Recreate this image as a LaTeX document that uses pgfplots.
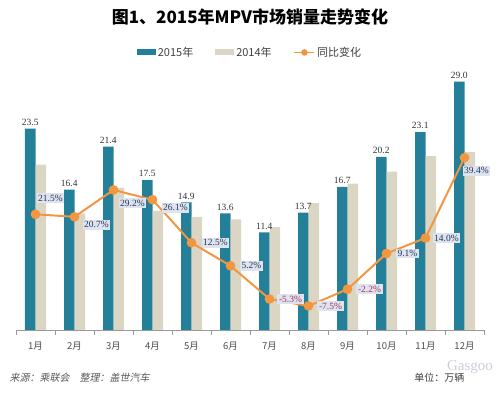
\documentclass[border=0pt]{standalone}
\usepackage{pgfplots}
\pgfplotsset{compat=1.18}
\usepackage{pgfplotstable}
\usepackage{fontspec}
\setmainfont{Liberation Serif}
\newfontfamily\cjk{Noto Sans CJK SC}
\newfontfamily\cjkit[FakeSlant=0.2]{Noto Sans CJK SC}
\definecolor{teal15}{RGB}{36,127,152}
\definecolor{beige14}{RGB}{218,214,195}
\definecolor{orng}{RGB}{242,150,66}
\definecolor{lblbg}{RGB}{221,228,240}
\definecolor{lbltxt}{RGB}{40,55,85}
\definecolor{negtxt}{RGB}{170,50,90}
\pgfplotstableread{
x v15 v14 g
0 23.5 19.3 21.5
1 16.4 13.6 20.7
2 21.4 16.6 29.2
3 17.5 13.9 26.1
4 14.9 13.2 12.5
5 13.6 12.9 5.2
6 11.4 12.0 -5.3
7 13.7 14.8 -7.5
8 16.7 17.1 -2.2
9 20.2 18.5 9.1
10 23.1 20.3 14.0
11 29.0 20.8 39.4
}\datatab
\pgfplotstableread{
x g dx dy
0 21.5 15 16
1 20.7 22 -8
2 29.2 19 -13
3 26.1 23 -8
4 12.5 24 0
5 5.2 21 0
9 9.1 21 0
10 14.0 21 0
11 39.4 12 -13
}\postab
\pgfplotstableread{
x g dx dy
6 -5.3 21 0
7 -7.5 22 0
8 -2.2 22 0
}\negtab
\begin{document}
\begin{tikzpicture}
\useasboundingbox (0pt,0pt) rectangle (500pt,395pt);
\begin{axis}[
  at={(16pt,65pt)}, anchor=south west,
  scale only axis, width=468pt, height=257pt,
  xmin=-0.5, xmax=11.5, ymin=0, ymax=30,
  clip=false,
  axis x line*=bottom, axis y line=none,
  x axis line style={draw=gray!80, -},
  xtick={0,...,11},
  xticklabels={1月,2月,3月,4月,5月,6月,7月,8月,9月,10月,11月,12月},
  major tick length=0pt,
  minor xtick={-0.5,0.5,...,11.5},
  minor tick length=5pt,
  tick align=outside,
  minor tick style={draw=gray!80},
  x tick label style={font=\cjk\fontsize{9.5}{11}\selectfont, text=black!70, yshift=-8pt},
  ybar=0pt, bar width=10.5pt,
  legend style={at={(0.5,1.08)}, anchor=center, draw=none, fill=none,
    legend columns=3, font=\cjk\fontsize{11}{12}\selectfont, text=black!75,
    /tikz/every even column/.append style={column sep=20pt}},
  legend cell align=left,
]
\addplot[fill=teal15, draw=none,
  legend image code/.code={\fill[teal15] (0pt,-2.5pt) rectangle (19pt,3pt);},
  nodes near coords={\pgfmathprintnumber[fixed,fixed zerofill,precision=1,assume math mode=true]{\pgfplotspointmeta}},
  nodes near coords style={font=\fontsize{9.5}{10}\selectfont, text=black!80, inner sep=3pt},
  point meta=explicit] table[x=x, y=v15, meta=v15] {\datatab};
\addlegendentry{2015年}
\addplot[fill=beige14, draw=none,
  legend image code/.code={\fill[beige14] (0pt,-2.5pt) rectangle (19pt,3pt);}]
  table[x=x, y=v14] {\datatab};
\addlegendentry{2014年}
\addlegendimage{orng, line width=1.5pt, legend image code/.code={\draw[orng, line width=1.5pt] (0pt,0pt) -- (20pt,0pt); \fill[orng] (10pt,0pt) circle (2.5pt);}}
\addlegendentry{同比变化}
\end{axis}
\begin{axis}[
  at={(16pt,65pt)}, anchor=south west,
  scale only axis, width=468pt, height=257pt,
  xmin=-0.5, xmax=11.5, ymin=-15.1, ymax=66.2,
  hide axis, clip=false,
]
\addplot[orng, line width=2pt, mark=*, mark size=3.8pt, mark options={fill=orng, draw=orng}]
  table[x=x, y=g] {\datatab};
\addplot[draw=none, mark=none, point meta=explicit,
  visualization depends on={\thisrow{dx} \as \dx},
  visualization depends on={\thisrow{dy} \as \dy},
  nodes near coords={\pgfmathprintnumber[fixed,fixed zerofill,precision=1,assume math mode=true]{\pgfplotspointmeta}\%},
  nodes near coords style={fill=lblbg, text=lbltxt, inner sep=1.6pt, anchor=center,
    font=\fontsize{9.5}{10}\selectfont, xshift=\dx pt, yshift=\dy pt},
] table[x=x, y=g, meta=g] {\postab};
\addplot[draw=none, mark=none, point meta=explicit,
  visualization depends on={\thisrow{dx} \as \dx},
  visualization depends on={\thisrow{dy} \as \dy},
  nodes near coords={\pgfmathprintnumber[fixed,fixed zerofill,precision=1,assume math mode=true]{\pgfplotspointmeta}\%},
  nodes near coords style={fill=lblbg, text=negtxt, inner sep=1.6pt, anchor=center,
    font=\fontsize{9.5}{10}\selectfont, xshift=\dx pt, yshift=\dy pt},
] table[x=x, y=g, meta=g] {\negtab};
\end{axis}
\node at (250pt,378pt) {\cjk\bfseries\fontsize{17}{20}\selectfont 图1、2015年MPV市场销量走势变化};
\node[anchor=west, text=black!65] at (6pt,17pt) {\cjkit\fontsize{10}{12}\selectfont 来源：乘联会　整理：盖世汽车};
\node[anchor=east, text=black!75] at (468pt,17pt) {\cjk\fontsize{10}{12}\selectfont 单位：万辆};
\node[text=blue!15!gray!35] at (470pt,28pt) {\fontsize{15}{16}\selectfont Gasgoo};
\end{tikzpicture}
\end{document}
